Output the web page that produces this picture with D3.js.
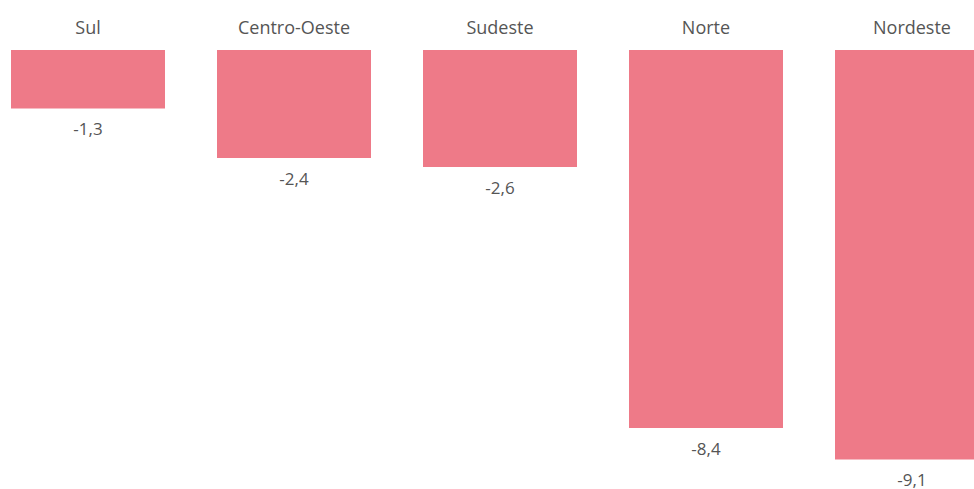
<!DOCTYPE html>
<html><head><meta charset="utf-8">
<script src="https://cdn.jsdelivr.net/npm/d3@7"></script>
<style>html,body{margin:0;padding:0;background:#fff;overflow:hidden}</style>
</head><body>
<svg id="chart" width="974" height="489"></svg>
<script>
const categories = ["Sul", "Centro-Oeste", "Sudeste", "Norte", "Nordeste"];
const values = [-1.3, -2.4, -2.6, -8.4, -9.1];
const labels = ["-1,3", "-2,4", "-2,6", "-8,4", "-9,1"];

const svg = d3.select("#chart");
const x = d3.scaleBand().domain(categories).range([-15, 1015]).paddingInner(52/206).paddingOuter(26/206);
const y = d3.scaleLinear().domain([0, -10]).range([50, 500]);
const font = "'Open Sans', sans-serif";

const g = svg.append("g");
categories.forEach((c, i) => {
  g.append("rect")
    .attr("x", x(c)).attr("y", y(0))
    .attr("width", x.bandwidth()).attr("height", y(values[i]) - y(0))
    .attr("fill", "#ee7a88");
  g.append("text")
    .attr("x", x(c) + x.bandwidth()/2).attr("y", 34)
    .attr("text-anchor", "middle").attr("font-family", font).attr("font-size", 18)
    .attr("fill", "#555").text(c);
  g.append("text")
    .attr("x", x(c) + x.bandwidth()/2).attr("y", y(values[i]) + 26.5)
    .attr("text-anchor", "middle").attr("font-family", font).attr("font-size", 17)
    .attr("fill", "#555").text(labels[i]);
});
</script>
</body></html>
